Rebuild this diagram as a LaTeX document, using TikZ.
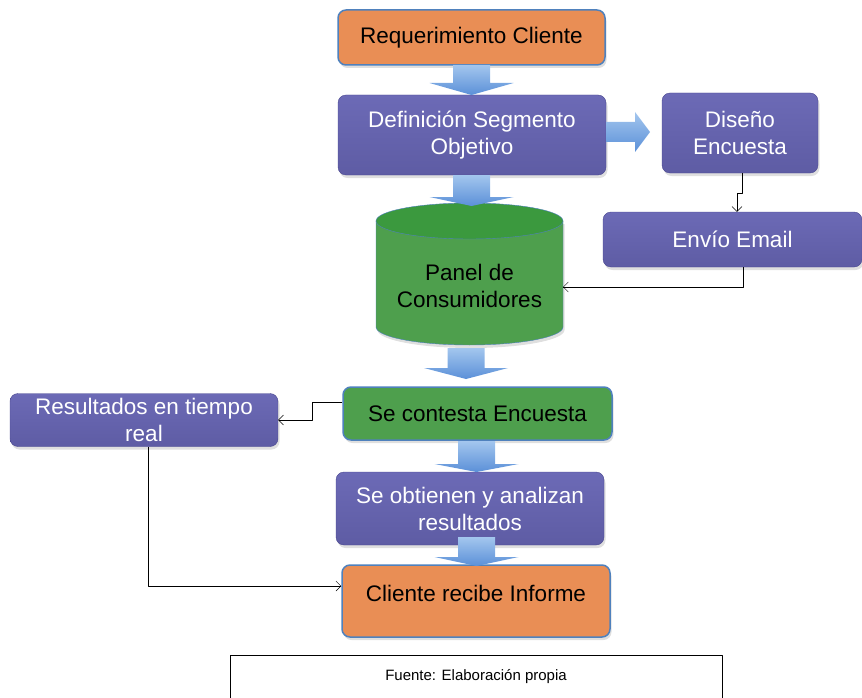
\documentclass[tikz,border=0pt]{standalone}
\usepackage{fontspec}
\setmainfont{Liberation Sans}
\usetikzlibrary{arrows.meta,shadows}

\definecolor{naranja}{HTML}{E98E55}
\definecolor{morado}{HTML}{6C6AB6}
\definecolor{moradoosc}{HTML}{5E5CA4}
\definecolor{bordemorado}{HTML}{4A4890}
\definecolor{verde}{HTML}{4E9F4D}
\definecolor{verdeosc}{HTML}{3B993E}
\definecolor{azulborde}{HTML}{4F81BD}
\definecolor{azulclaro}{HTML}{A3C6EE}
\definecolor{azulflecha}{HTML}{5B90D8}

\tikzset{
  caja/.style={rectangle, rounded corners=8pt, align=center, inner sep=0pt,
    drop shadow={shadow xshift=1.5pt, shadow yshift=-3pt, opacity=0.25}},
  cajanaranja/.style={caja, fill=naranja, draw=azulborde, line width=1.5pt},
  cajamorada/.style={caja, top color=morado, bottom color=moradoosc, draw=bordemorado, text=white},
  cajaverde/.style={caja, fill=verde, draw=azulborde, line width=1.5pt},
  flechabloque/.style={top color=azulclaro, bottom color=azulflecha},
}

% flecha gruesa hacia abajo: x centro, y inicio, y cabeza, y punta
\newcommand{\flechaabajo}[4]{%
  \shade[flechabloque] (#1-18.5,#2) -- (#1+18.5,#2) -- (#1+18.5,#3) -- (#1+42,#3)
    -- (#1,#4) -- (#1-42,#3) -- (#1-18.5,#3) -- cycle;}

\begin{document}
\begin{tikzpicture}[x=1pt, y=-1pt, font=\fontsize{22.5}{27}\selectfont, line join=round, >={Straight Barb[length=5pt,width=10pt]}]
  \useasboundingbox (0,0) rectangle (862,698);
  % Cajas principales
  \node[cajanaranja, minimum width=267pt, minimum height=55pt] (req) at (471.5,37.5) {Requerimiento Cliente};
  \node[cajamorada, minimum width=268pt, minimum height=80pt] (def) at (472,135) {Definición Segmento\\Objetivo};
  \node[cajamorada, minimum width=156pt, minimum height=80pt] (dis) at (740,133) {Diseño\\Encuesta};
  \node[cajamorada, minimum width=259pt, minimum height=55pt] (env) at (732.5,239.5) {Envío Email};
  % Cilindro del panel
  \draw[azulborde, fill=verde, drop shadow={shadow xshift=1.5pt, shadow yshift=-3pt, opacity=0.25}]
    (376,221) -- (376,327) arc[start angle=180, end angle=0, x radius=93.5, y radius=18] -- (563,221) -- cycle;
  \draw[azulborde, fill=verdeosc] (469.5,221) ellipse[x radius=93.5, y radius=18];
  \node[align=center] (panel) at (469.5,286) {Panel de\\Consumidores};
  \coordinate (panelE) at (563,287);
  \node[cajaverde, minimum width=269pt, minimum height=53pt] (con) at (477.5,413.5) {Se contesta Encuesta};
  \node[cajamorada, minimum width=268pt, minimum height=53pt] (res) at (144,420) {Resultados en tiempo\\real};
  \node[cajamorada, minimum width=268pt, minimum height=73pt] (obt) at (470,508.5) {Se obtienen y analizan\\resultados};
  \node[cajanaranja, minimum width=268pt, minimum height=72pt] (cli) at (476,601) {\raisebox{16pt}{Cliente recibe Informe}};
  % Fuente
  \node[draw, line width=1pt, fill=white, minimum width=492pt, minimum height=44pt, font=\fontsize{15}{18}\selectfont] (fuente) at (476,677) {Fuente: Elaboración propia};
  % Conectores finos
  \draw[->] ([xshift=2pt]dis.south) -- ++(0,20) -| ([xshift=4.5pt]env.north);
  \draw[->] ([xshift=10.5pt]env.south) |- (panelE);
  \draw[->] ([yshift=11.5pt]con.west) -- ++(-30,0) |- (res.east);
  \draw[->] ([xshift=4pt]res.south) |- ([yshift=15pt]cli.west);
  % Flechas gruesas
  \flechaabajo{471.5}{65}{83}{95}
  \flechaabajo{471.5}{175}{197}{206}
  \flechaabajo{466}{348}{368}{379}
  \flechaabajo{476.5}{441}{464}{472}
  \flechaabajo{476.5}{537}{557}{566}
  \shade[flechabloque] (606,122) -- (635,122) -- (635,112) -- (650,132) -- (635,152) -- (635,142) -- (606,142) -- cycle;
\end{tikzpicture}
\end{document}
